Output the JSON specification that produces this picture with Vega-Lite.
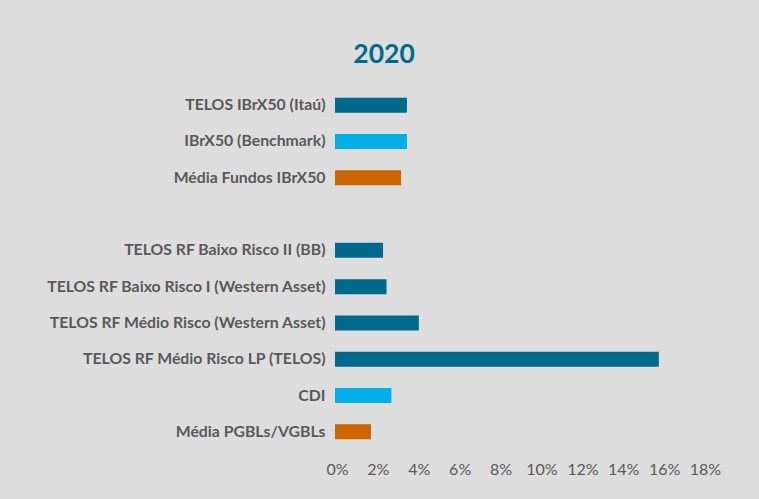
{
  "$schema": "https://vega.github.io/schema/vega-lite/v6.json",
  "autosize": {"type": "none"},
  "padding": {"left": 335, "top": 87, "right": 56, "bottom": 49},
  "width": 368,
  "height": 363,
  "background": "#dddddd",
  "title": {
    "text": "2020",
    "font": "Lato",
    "fontSize": 26.5,
    "fontWeight": "bold",
    "color": "#006a8e",
    "anchor": "middle",
    "dx": -135,
    "offset": 19
  },
  "data": {
    "values": [
      {"label": "TELOS IBrX50 (Itaú)", "value": 0.0352, "group": "TELOS"},
      {"label": "IBrX50 (Benchmark)", "value": 0.0352, "group": "Benchmark"},
      {"label": "Média Fundos IBrX50", "value": 0.0323, "group": "Média"},
      {"label": "TELOS RF Baixo Risco II (BB)", "value": 0.0235, "group": "TELOS"},
      {"label": "TELOS RF Baixo Risco I (Western Asset)", "value": 0.0252, "group": "TELOS"},
      {"label": "TELOS RF Médio Risco (Western Asset)", "value": 0.041, "group": "TELOS"},
      {"label": "TELOS RF Médio Risco LP (TELOS)", "value": 0.1584, "group": "TELOS"},
      {"label": "CDI", "value": 0.0276, "group": "Benchmark"},
      {"label": "Média PGBLs/VGBLs", "value": 0.0176, "group": "Média"}
    ]
  },
  "mark": {"type": "bar"},
  "encoding": {
    "y": {
      "field": "label",
      "type": "nominal",
      "scale": {
        "domain": ["TELOS IBrX50 (Itaú)", "IBrX50 (Benchmark)", "Média Fundos IBrX50", " ", "TELOS RF Baixo Risco II (BB)", "TELOS RF Baixo Risco I (Western Asset)", "TELOS RF Médio Risco (Western Asset)", "TELOS RF Médio Risco LP (TELOS)", "CDI", "Média PGBLs/VGBLs"],
        "paddingInner": 0.587,
        "paddingOuter": 0.2935
      },
      "axis": {
        "title": null,
        "domain": false,
        "ticks": false,
        "labelPadding": 10,
        "labelFont": "Lato",
        "labelFontSize": 15.8,
        "labelFontWeight": "bold",
        "labelColor": "#595959",
        "labelLimit": 400
      }
    },
    "x": {
      "field": "value",
      "type": "quantitative",
      "scale": {"domain": [0, 0.18], "nice": false},
      "axis": {
        "title": null,
        "format": ".0%",
        "values": [0, 0.02, 0.04, 0.06, 0.08, 0.1, 0.12, 0.14, 0.16, 0.18],
        "grid": false,
        "domain": false,
        "ticks": false,
        "labelPadding": 11,
        "labelFont": "Lato",
        "labelFontSize": 16,
        "labelColor": "#595959",
        "labelOffset": 2,
        "labelOverlap": false,
        "labelFlush": false
      }
    },
    "color": {
      "field": "group",
      "type": "nominal",
      "scale": {"domain": ["TELOS", "Benchmark", "Média"], "range": ["#00698c", "#00aee8", "#cc6600"]},
      "legend": null
    }
  },
  "config": {"view": {"stroke": null}}
}
